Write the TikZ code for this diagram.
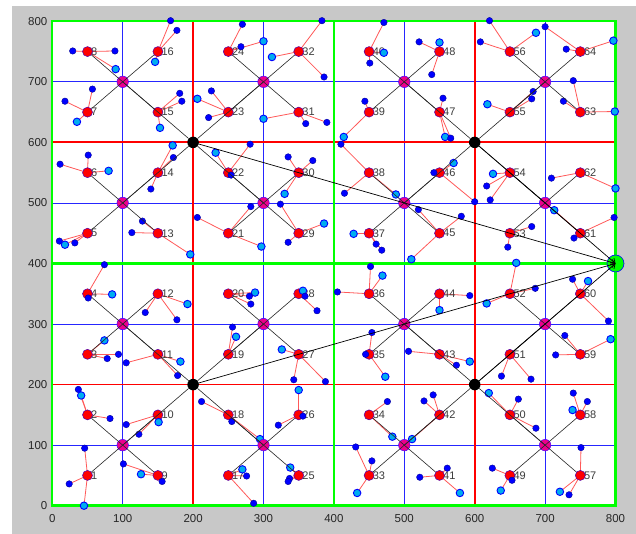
\documentclass[tikz,border=0pt]{standalone}
\usepackage{fontspec}
\setmainfont{Liberation Sans}
\usetikzlibrary{arrows.meta}
\definecolor{figgray}{RGB}{200,200,200}
\definecolor{labgray}{RGB}{60,60,60}
\pgfdeclarelayer{bg}
\pgfdeclarelayer{grid}
\pgfdeclarelayer{lines}
\pgfdeclarelayer{labels}
\pgfdeclarelayer{top}
\pgfsetlayers{bg,grid,lines,labels,main,top}
\begin{document}
\begin{tikzpicture}[x=0.704pt,y=0.6055pt,
  rednode/.style={circle,fill=red,draw=blue!70!red,line width=0.5pt,inner sep=0pt,minimum size=10pt},
  satb/.style={circle,fill=blue,draw=blue!60!black,line width=0.4pt,inner sep=0pt,minimum size=6.5pt},
  satc/.style={circle,fill=cyan,draw=blue,line width=0.9pt,inner sep=0pt,minimum size=7.5pt},
  magnode/.style={circle,fill=magenta,draw=blue!70!magenta,line width=0.5pt,inner sep=0pt,minimum size=11.5pt},
  headnode/.style={circle,fill=black,inner sep=0pt,minimum size=11.5pt},
  sinknode/.style={circle,fill=green,draw=blue,line width=0.6pt,inner sep=0pt,minimum size=17pt},
  satline/.style={draw=red!65,line width=0.8pt},
  linkline/.style={draw=black!85,line width=0.6pt},
  sinkline/.style={draw=black,line width=0.7pt,-{Straight Barb[length=4pt,width=6pt]}},
  lab/.style={anchor=west,inner sep=0pt,text=labgray,font=\fontsize{11}{13}\selectfont},
  ticklab/.style={inner sep=0pt,text=black!85,font=\fontsize{11.5}{13}\selectfont},
  bluegrid/.style={draw=blue!85,line width=0.8pt},
  redgrid/.style={draw=red,line width=1.8pt},
  greengrid/.style={draw=green,line width=2.8pt},
  greenborder/.style={draw=green,line width=2.4pt}
]
\useasboundingbox (-74.29,-46.74) rectangle (829.12,835.17);
\begin{pgfonlayer}{bg}
  \fill[white] (-74.29,-46.74) rectangle (829.12,835.17);
  \fill[figgray] (-57.24,-46.74) rectangle (829.12,825.27);
  \fill[white] (0,0) rectangle (800,800);
\end{pgfonlayer}
\begin{pgfonlayer}{grid}
  \foreach \v in {100,300,500,700}{
    \draw[bluegrid] (\v,0) -- (\v,800);
    \draw[bluegrid] (0,\v) -- (800,\v);
  }
  \foreach \v in {200,600}{
    \draw[redgrid] (\v,0) -- (\v,800);
    \draw[redgrid] (0,\v) -- (800,\v);
  }
  \draw[greengrid] (400,0) -- (400,800);
  \draw[greengrid] (0,400) -- (800,400);
  \draw[greenborder] (0,0) rectangle (800,800);
\end{pgfonlayer}
% tick labels
\foreach \v in {0,100,...,800}{
  \node[ticklab,anchor=east] (ya\v) at (-6.8,\v) {\v};
  \node[ticklab] (xa\v) at (\v,-20.8) {\v};
}
% red nodes and labels
\foreach \i in {0,...,7}{
  \foreach \j in {0,...,7}{
    \pgfmathtruncatemacro{\n}{8*\i+\j+1}
    \node[rednode] (r\n) at ({50+100*\i},{50+100*\j}) {};
    \begin{pgfonlayer}{labels}
      \node[lab] (t\n) at ({55+100*\i},{50+100*\j}) {\n};
    \end{pgfonlayer}
  }
}
% satellites
\foreach \pp/\xx/\yy/\ty [count=\k] in {
1/46/95/b, 1/24/36/b, 1/45/0/c,
2/37/192/b, 2/41/182/c, 2/82/144/b,
3/94/250/b, 3/78/243/b, 3/74/273/c,
4/74/398/b, 4/85/349/c, 4/51/343/b,
5/10/437/b, 5/18/431/c, 5/32/434/b,
6/51/579/b, 6/11/564/b, 6/80/553/c,
7/57/688/b, 7/18/668/b, 7/35/634/c,
8/29/751/b, 8/89/751/b, 8/90/721/c,
9/101/69/b, 9/126/52/c, 9/156/40/b,
10/105/134/b, 10/151/138/c, 10/123/118/b,
11/105/236/b, 11/182/238/c, 11/178/215/b,
12/132/319/b, 12/177/307/b, 12/192/333/c,
13/113/451/b, 13/128/470/b, 13/196/415/c,
14/171/595/c, 14/172/575/b, 14/140/523/b,
15/181/681/b, 15/184/668/b, 15/153/624/c,
16/168/801/b, 16/177/785/b, 16/146/733/c,
17/270/60/c, 17/276/49/b, 17/286/4/b,
18/212/172/b, 18/255/139/b, 18/295/110/c,
19/256/295/b, 19/261/279/c,
20/288/352/c, 20/280/346/b, 20/282/333/b,
21/206/476/b, 21/297/428/c, 21/282/494/b,
22/281/597/b, 22/232/583/c, 22/254/546/b,
23/206/672/c, 23/226/685/b, 23/222/641/b,
24/270/795/b, 24/268/758/b, 24/300/767/c,
25/338/63/c, 25/337/45/b, 25/335/40/b,
26/350/191/c, 26/321/133/b, 26/356/148/b,
27/326/258/c, 27/343/208/b, 27/388/205/b,
28/356/355/c, 28/359/346/b, 28/376/322/b,
29/324/498/b, 29/386/466/c, 29/335/435/b,
30/335/576/b, 30/370/570/b, 30/330/515/c,
31/300/639/c, 31/360/631/b, 31/390/633/b,
32/383/801/b, 32/312/741/c, 32/386/708/b,
33/431/97/b, 33/454/74/b, 33/433/21/c,
34/476/172/b, 34/483/114/c,
35/445/250/b, 35/473/213/c, 35/454/286/b,
36/452/395/b, 36/469/380/c, 36/405/353/b,
37/428/449/c, 37/460/432/b, 37/468/422/b,
38/410/597/b, 38/415/516/b, 38/488/514/c,
39/444/668/b, 39/414/609/c,
40/471/798/b, 40/471/748/c, 40/451/731/b,
41/561/62/b, 41/522/47/b, 41/579/21/c,
42/528/173/b, 42/541/183/b, 42/511/110/c,
43/593/238/c, 43/574/232/b, 43/506/255/b,
44/593/347/b, 44/550/323/c,
45/520/489/b, 45/581/478/b, 45/510/407/c,
46/570/566/c, 46/542/550/b, 46/600/502/b,
47/555/673/b, 47/558/609/c, 47/566/607/b,
48/521/766/b, 48/550/765/c, 48/539/712/b,
49/625/62/b, 49/637/25/c, 49/653/42/b,
50/620/186/c, 50/662/176/b, 50/687/128/b,
51/638/214/b, 51/680/209/b,
52/686/359/b, 52/617/334/c, 52/659/401/c,
53/681/461/b, 53/647/427/b,
54/626/548/c, 54/617/528/b, 54/622/505/b,
55/618/663/c, 55/683/684/b, 55/681/672/b,
56/621/801/b, 56/608/766/b, 56/687/781/c,
57/751/96/b, 57/721/23/c, 57/734/18/b,
58/740/186/b, 58/760/172/b, 58/739/158/c,
59/793/275/c, 59/728/281/b, 59/715/249/b,
60/739/374/b, 60/761/371/c, 60/790/305/b,
61/798/476/b, 61/741/442/b, 61/713/488/c,
62/709/541/b, 62/800/524/c,
63/740/702/b, 63/726/668/b, 63/799/651/c,
64/700/791/b, 64/730/754/b, 64/797/768/c}{
  \node[sat\ty] (s\k) at (\xx,\yy) {};
  \begin{pgfonlayer}{lines}
    \draw[satline] (r\pp.center) -- (s\k.center);
  \end{pgfonlayer}
}
% cluster heads
\foreach \a in {0,...,3}{
  \foreach \b in {0,...,3}{
    \node[magnode] (m\a\b) at ({100+200*\a},{100+200*\b}) {};
  }
}
\foreach \a in {0,1}{
  \foreach \b in {0,1}{
    \node[headnode] (k\a\b) at ({200+400*\a},{200+400*\b}) {};
  }
}
\node[sinknode] (sink) at (800,400) {};
% links
\begin{pgfonlayer}{top}
\foreach \i in {0,...,7}{
  \foreach \j in {0,...,7}{
    \pgfmathtruncatemacro{\n}{8*\i+\j+1}
    \pgfmathtruncatemacro{\a}{\i/2}
    \pgfmathtruncatemacro{\b}{\j/2}
    \draw[linkline] (r\n) -- (m\a\b.center);
  }
}
\foreach \a in {0,...,3}{
  \foreach \b in {0,...,3}{
    \pgfmathtruncatemacro{\c}{\a/2}
    \pgfmathtruncatemacro{\d}{\b/2}
    \draw[linkline] (m\a\b.center) -- (k\c\d);
  }
}
\foreach \c/\d in {0/0,0/1,1/0,1/1}{
  \draw[sinkline] (k\c\d.center) -- (sink.center);
}
\end{pgfonlayer}
\end{tikzpicture}
\end{document}
